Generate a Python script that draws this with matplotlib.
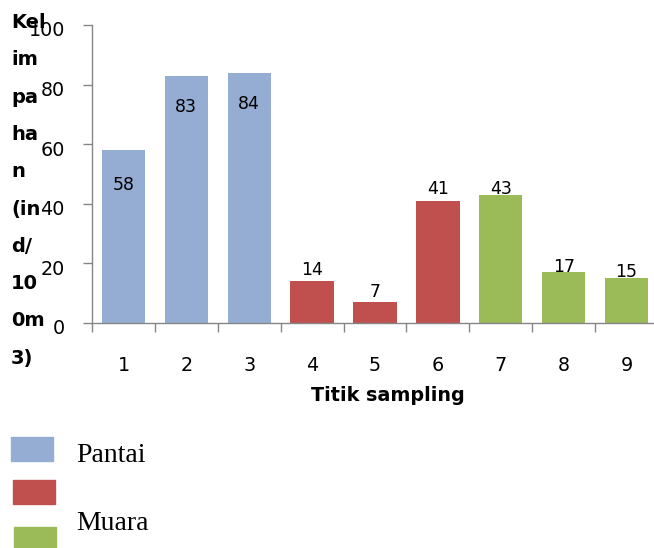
import matplotlib
matplotlib.use("Agg")
import matplotlib.pyplot as plt
from matplotlib.patches import Rectangle
from matplotlib.transforms import ScaledTranslation
import numpy as np

# ---- data ----
titik = ['1', '2', '3', '4', '5', '6', '7', '8', '9']
kelimpahan = [58, 83, 84, 14, 7, 41, 43, 17, 15]
kelompok = ['Pantai', 'Pantai', 'Pantai', 'Tengah', 'Tengah', 'Tengah', 'Muara', 'Muara', 'Muara']
warna = {'Pantai': '#95ACD3', 'Tengah': '#C0504D', 'Muara': '#9BBB59'}
legend_names = ['Pantai', '', 'Muara']
legend_keys = ['Pantai', 'Tengah', 'Muara']
y_ticks = [0, 20, 40, 60, 80, 100]
ylabel_lines = ['Kel', 'im', 'pa', 'ha', 'n', '(in', 'd/', '10', '0m', '3)']
xlabel = 'Titik sampling'

# label offsets (pixels, centre of label relative to bar top)
label_off = [-35, -31, -31, 11, 10, 12, 6, 5.5, 6]

plt.rcParams['font.family'] = ['DejaVu Sans']

W, H = 654, 548
fig = plt.figure(figsize=(W / 100, H / 100), dpi=100)
fx = lambda px: px / W
fy = lambda py: 1 - py / H

ax = fig.add_axes([fx(92), fy(323), (658 - 92) / W, (323 - 25) / H])
x = np.arange(len(titik))
ax.bar(x, kelimpahan, width=0.69, color=[warna[k] for k in kelompok], zorder=2)
ax.set_xlim(-0.5, len(titik) - 0.5)
ax.set_ylim(0, 100)

for s in ['top', 'right']:
    ax.spines[s].set_visible(False)
for s in ['left', 'bottom']:
    ax.spines[s].set_color('#868686')
    ax.spines[s].set_linewidth(1.0)

ax.set_yticks(y_ticks)
ax.set_yticklabels([str(v) for v in y_ticks], fontsize=13.8)
ax.tick_params(axis='y', direction='out', length=6.5, width=1, color='#868686', pad=13)
shift = ScaledTranslation(0, -4 / 100, fig.dpi_scale_trans)
for lab in ax.get_yticklabels():
    lab.set_transform(lab.get_transform() + shift)

ax.set_xticks(np.arange(-0.5, len(titik), 1))
ax.set_xticklabels([])
ax.set_xticks(x, minor=True)
ax.set_xticklabels(titik, minor=True, fontsize=13.8)
ax.tick_params(axis='x', which='major', direction='out', length=6.5, width=1, color='#868686')
ax.tick_params(axis='x', which='minor', length=0, pad=24)

for xi, v, off in zip(x, kelimpahan, label_off):
    ax.annotate(str(v), (xi, v), xytext=(0, off * 0.72), textcoords='offset points',
                ha='center', va='center', fontsize=12.5, color='black', zorder=3)

fig.text(fx(388), fy(401), xlabel, ha='center', va='baseline',
         fontweight='bold', fontsize=13.8)

for i, line in enumerate(ylabel_lines):
    fig.text(fx(11), fy(22.5 + i * 37.3), line, ha='left', va='center',
             fontweight='bold', fontsize=14)

# legend
leg_boxes = [(11, 437), (13, 480), (14, 527)]
leg_text_y = [455, None, 523]
for (bx, by), key, name, ty in zip(leg_boxes, legend_keys, legend_names, leg_text_y):
    fig.patches.append(Rectangle((fx(bx), fy(by + 24)), 42 / W, 24 / H,
                                 transform=fig.transFigure, color=warna[key]))
    if name:
        fig.text(fx(76), fy(ty), name, ha='left', va='center', family='Liberation Serif',
                 fontsize=20)

fig.savefig('out.png', dpi=100)
